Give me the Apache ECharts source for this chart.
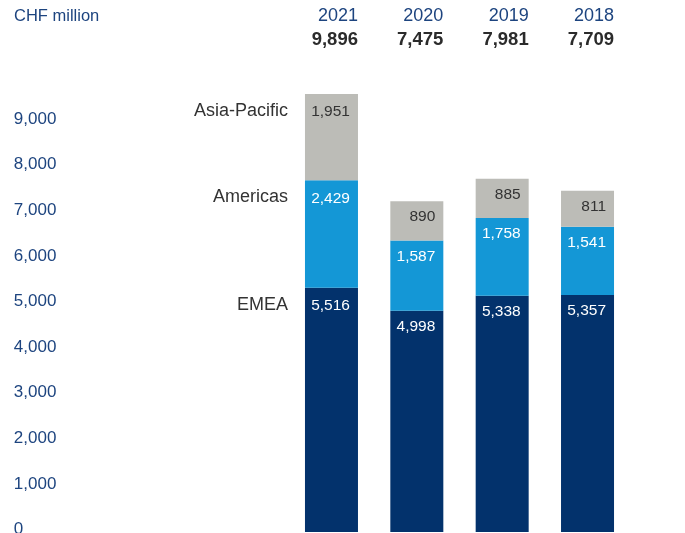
<!DOCTYPE html>
<html>
<head>
<meta charset="utf-8">
<script src="https://cdn.jsdelivr.net/npm/echarts@6/dist/echarts.min.js"></script>
<style>
  html, body { margin: 0; padding: 0; background: #fff; }
  #chart { width: 685px; height: 533px; }
</style>
</head>
<body>
<div id="chart"></div>
<script>
const years = ['2021', '2020', '2019', '2018']
const totals = [9896, 7475, 7981, 7709]
const emea = [5516, 4998, 5338, 5357]
const americas = [2429, 1587, 1758, 1541]
const asiaPacific = [1951, 890, 885, 811]
const yTicks = [0, 1000, 2000, 3000, 4000, 5000, 6000, 7000, 8000, 9000]

const FONT = '"Liberation Sans", Arial, sans-serif'
const BLUE_TEXT = '#1d447f'
const fmt = v => v.toLocaleString('en-US')

// first bar carries the region name on its left
const makeData = (values, name) => values.map((v, i) => {
  if (i !== 0) return v
  return {
    value: v,
    label: {
      formatter: p => '{n|' + name + '}{v|' + fmt(p.value) + '}'
    }
  }
})

const makeSeries = (name, values, color, textColor) => ({
  name: name,
  type: 'bar',
  stack: 'total',
  xAxisIndex: 0,
  yAxisIndex: 0,
  barWidth: 53,
  data: makeData(values, name),
  itemStyle: { color: color },
  label: {
    show: true,
    position: 'insideTopRight',
    distance: 8,
    fontFamily: FONT,
    fontSize: 15.5,
    color: textColor,
    formatter: p => fmt(p.value),
    rich: {
      n: { fontFamily: FONT, fontSize: 18, color: '#333', padding: [0, 17, 2, 0] },
      v: { fontFamily: FONT, fontSize: 15.5, color: textColor, width: 45, align: 'right' }
    }
  },
  emphasis: { disabled: true }
})

const chart = echarts.init(document.getElementById('chart'))
chart.setOption({
  animation: false,
  title: {
    text: 'CHF million',
    left: 9,
    top: 3,
    textStyle: { fontFamily: FONT, fontSize: 16.5, fontWeight: 'normal', color: BLUE_TEXT }
  },
  grid: [
    { left: 288.8, right: 54.8, top: 89.4, bottom: 1, outerBoundsMode: 'none' },
    { left: 288.8, right: 54.8, top: 73.5, bottom: 3.5, outerBoundsMode: 'none' }
  ],
  xAxis: [
    {
      gridIndex: 0,
      type: 'category',
      position: 'top',
      data: years,
      axisLine: { show: false },
      axisTick: { show: false },
      axisLabel: {
        margin: 37,
        formatter: (v, i) => '{y|' + v + '}\n{t|' + fmt(totals[i]) + '}',
        rich: {
          y: { fontFamily: FONT, fontSize: 18, color: BLUE_TEXT, width: 53, align: 'right', lineHeight: 24 },
          t: { fontFamily: FONT, fontSize: 18.5, fontWeight: 'bold', color: '#2b2b2b', width: 53, align: 'right', lineHeight: 24 }
        }
      }
    },
    { gridIndex: 1, type: 'category', data: years, show: false }
  ],
  yAxis: [
    { gridIndex: 0, type: 'value', min: 0, max: 10000, show: false },
    {
      gridIndex: 1,
      type: 'value',
      min: 0,
      max: 10000,
      interval: 1000,
      splitLine: { show: false },
      axisLine: { show: false },
      axisTick: { show: false },
      axisLabel: {
        align: 'left',
        margin: 275,
        fontFamily: FONT,
        fontSize: 17,
        color: BLUE_TEXT,
        customValues: yTicks,
        formatter: v => fmt(v)
      }
    }
  ],
  series: [
    makeSeries('EMEA', emea, '#03326c', '#fff'),
    makeSeries('Americas', americas, '#1497d6', '#fff'),
    makeSeries('Asia-Pacific', asiaPacific, '#bcbcb7', '#333')
  ]
})
</script>
</body>
</html>
